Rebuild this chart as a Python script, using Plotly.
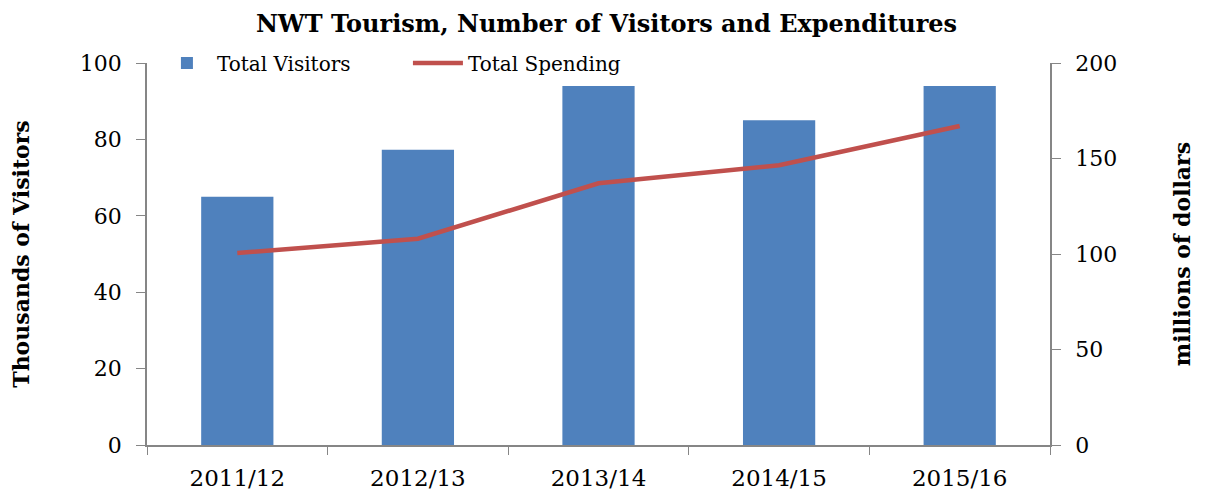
import plotly.graph_objects as go

categories = ["2011/12", "2012/13", "2013/14", "2014/15", "2015/16"]
visitors = [65, 77.3, 94, 85, 94]
spending = [100.5, 108, 137, 146.5, 167]

FONT = "DejaVu Serif"
AXIS_COLOR = "#868686"

fig = go.Figure()
fig.add_trace(go.Bar(
    x=categories, y=visitors, name="Total Visitors",
    marker=dict(color="#4F81BD", line=dict(width=0)), width=0.4,
))
fig.add_trace(go.Scatter(
    x=categories, y=spending, name="Total Spending", yaxis="y2",
    mode="lines", line=dict(color="#C0504D", width=4.5),
))

fig.update_layout(
    width=1197, height=485,
    margin=dict(l=139, r=155, t=55, b=48, autoexpand=False),
    plot_bgcolor="white", paper_bgcolor="white",
    font=dict(family=FONT, size=22, color="black"),
    title=dict(text="<b>NWT Tourism, Number of Visitors and Expenditures</b>",
               x=0.5, xanchor="center", y=0.968, yanchor="middle",
               font=dict(family=FONT, size=24, color="black")),
    showlegend=True,
    legend=dict(orientation="h", x=0.011, y=1.0, xanchor="left", yanchor="middle",
                bgcolor="rgba(0,0,0,0)", font=dict(size=20),
                itemwidth=50, entrywidth=186, entrywidthmode="pixels"),
    xaxis=dict(
        type="category", showline=True, linecolor=AXIS_COLOR, linewidth=1.5,
        ticks="outside", tickson="boundaries", ticklen=8, tickcolor=AXIS_COLOR,
        showgrid=False, tickfont=dict(size=23), automargin=False,
        ticklabelstandoff=12,
    ),
    yaxis=dict(
        range=[0, 100], tickvals=[0, 20, 40, 60, 80, 100],
        showline=True, linecolor=AXIS_COLOR, linewidth=1.5,
        ticks="outside", ticklen=9, tickcolor=AXIS_COLOR, showgrid=False,
        zeroline=False, tickfont=dict(size=22), automargin=False,
        ticklabelstandoff=10,
        title=dict(text="<b>Thousands of Visitors</b>", font=dict(size=22), standoff=53),
    ),
    yaxis2=dict(
        range=[0, 200], tickvals=[0, 50, 100, 150, 200],
        overlaying="y", side="right",
        showline=True, linecolor=AXIS_COLOR, linewidth=1.5,
        ticks="outside", ticklen=9, tickcolor=AXIS_COLOR, showgrid=False,
        zeroline=False, tickfont=dict(size=22), automargin=False,
        ticklabelstandoff=10,
        title=dict(text="<b>millions of dollars</b>", font=dict(size=22), standoff=58),
    ),
)

fig.write_html("out.html")
